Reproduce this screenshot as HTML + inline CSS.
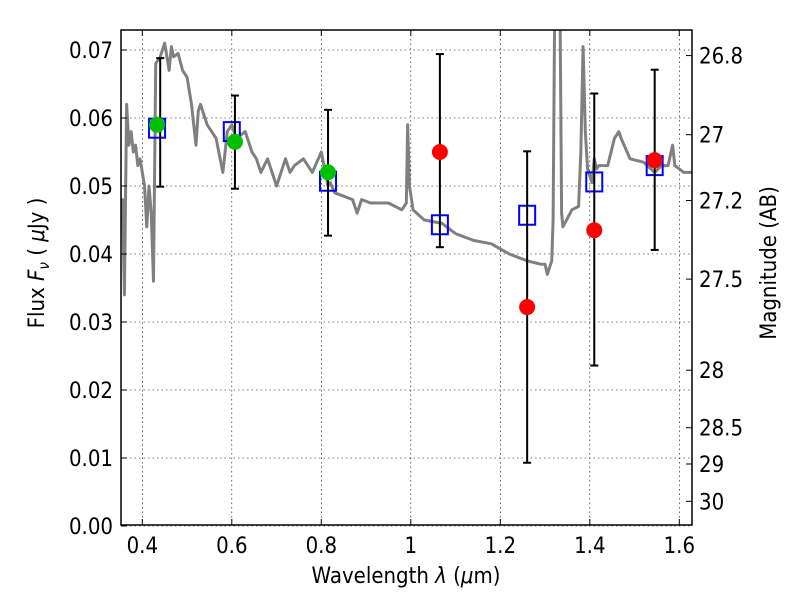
<!DOCTYPE html>
<html><head><meta charset="utf-8"><style>
body{margin:0;background:#fff}
svg text{font-family:"DejaVu Sans","Liberation Sans",sans-serif;fill:#000}
</style></head><body>
<svg id="chart" width="800" height="600" xmlns="http://www.w3.org/2000/svg">
<defs><clipPath id="clip"><rect x="121" y="30" width="571" height="495"/></clipPath></defs>
<g id="grid"></g>
<g id="spec" clip-path="url(#clip)"></g>
<g id="marks"></g>
<rect x="121" y="30" width="571" height="495" fill="none" stroke="#000" stroke-width="1.5"/>
<g id="axes"></g>
<text transform="translate(406,583) scale(0.9,1)" font-size="22" text-anchor="middle">Wavelength  <tspan font-style="italic">λ</tspan> (<tspan font-style="italic">μ</tspan>m)</text>
<text transform="translate(44,263) rotate(-90) scale(0.9,1)" font-size="22" text-anchor="middle">Flux  <tspan font-style="italic">F</tspan><tspan font-style="italic" font-size="15" dy="5">ν</tspan><tspan dy="-5">  ( </tspan><tspan font-style="italic">μ</tspan>Jy )</text>
<text transform="translate(776,263) rotate(-90) scale(0.9,1)" font-size="22" text-anchor="middle">Magnitude (AB)</text>
</svg>
<script>
const specWave=[0.352,0.356,0.36,0.365,0.37,0.375,0.38,0.385,0.39,0.395,0.4,0.405,0.41,0.415,0.42,0.425,0.43,0.44,0.45,0.46,0.465,0.47,0.48,0.49,0.5,0.51,0.52,0.525,0.53,0.545,0.555,0.565,0.58,0.59,0.6,0.61,0.62,0.63,0.645,0.655,0.665,0.68,0.69,0.7,0.72,0.73,0.74,0.76,0.78,0.8,0.815,0.82,0.83,0.85,0.87,0.88,0.89,0.91,0.95,0.98,0.99,0.993,0.997,1.005,1.03,1.07,1.1,1.14,1.18,1.22,1.26,1.29,1.3,1.305,1.315,1.318,1.322,1.333,1.337,1.34,1.36,1.375,1.38,1.385,1.39,1.395,1.405,1.41,1.415,1.42,1.44,1.455,1.465,1.47,1.49,1.52,1.545,1.56,1.575,1.585,1.59,1.61,1.627];
const specFlux=[0.045,0.048,0.034,0.062,0.056,0.058,0.055,0.056,0.053,0.054,0.052,0.05,0.044,0.05,0.046,0.036,0.068,0.069,0.071,0.067,0.0705,0.069,0.0695,0.067,0.066,0.062,0.056,0.061,0.062,0.059,0.058,0.057,0.052,0.058,0.059,0.057,0.0575,0.058,0.055,0.054,0.052,0.054,0.052,0.05,0.054,0.052,0.053,0.054,0.052,0.055,0.05,0.0505,0.049,0.0485,0.048,0.046,0.048,0.0475,0.0475,0.0465,0.0475,0.059,0.05,0.0465,0.045,0.0445,0.043,0.042,0.0415,0.040,0.039,0.0385,0.0385,0.037,0.039,0.045,0.08,0.08,0.046,0.044,0.0465,0.047,0.055,0.0705,0.058,0.0525,0.0505,0.054,0.0525,0.053,0.053,0.057,0.058,0.057,0.054,0.0535,0.052,0.053,0.053,0.056,0.053,0.052,0.052];
const sqWave=[0.433,0.6,0.815,1.065,1.26,1.41,1.545];
const sqFlux=[0.0585,0.058,0.0507,0.0443,0.0457,0.0506,0.053];
const greenWave=[0.433,0.607,0.815];
const greenFlux=[0.059,0.0565,0.052];
const redWave=[1.065,1.26,1.41,1.545];
const redFlux=[0.055,0.0322,0.0435,0.0538];
const errWave=[0.44,0.607,0.815,1.065,1.26,1.41,1.545];
const errLo=[0.0499,0.0496,0.0427,0.041,0.0093,0.0236,0.0406];
const errHi=[0.0688,0.0633,0.0612,0.0694,0.0551,0.0636,0.0671];
const xTicks=[0.4,0.6,0.8,1,1.2,1.4,1.6];
const xTickLabels=["0.4","0.6","0.8","1","1.2","1.4","1.6"];
const yTicks=[0,0.01,0.02,0.03,0.04,0.05,0.06,0.07];
const yTickLabels=["0.00","0.01","0.02","0.03","0.04","0.05","0.06","0.07"];
const magTicks=[26.8,27,27.2,27.5,28,28.5,29,30];
const magTickLabels=["26.8","27","27.2","27.5","28","28.5","29","30"];

const NS="http://www.w3.org/2000/svg";
const X=w=>142.3+(w-0.4)*447.5;
const Y=f=>526-f*6800;
function mk(tag,parent,attrs){const e=document.createElementNS(NS,tag);for(const k in attrs)e.setAttribute(k,attrs[k]);document.getElementById(parent).appendChild(e);return e;}
function txt(x,y,anchor,s){return mk('text','axes',{transform:'translate('+x+','+y+') scale(0.9,1)','font-size':22,'text-anchor':anchor});}

xTicks.forEach((t,i)=>{
  const g=mk('line','grid',{x1:X(t),x2:X(t),y1:30,y2:525,stroke:'#000','stroke-width':0.6,'stroke-dasharray':'1.5,3'});
  
  
  const tk=mk('line','axes',{x1:X(t),x2:X(t),y1:525,y2:519,stroke:'#000'});
  
  
  const tk2=mk('line','axes',{x1:X(t),x2:X(t),y1:30,y2:36,stroke:'#000'});
  
  
  const l=txt(X(t),553,'middle');
  l.textContent=xTickLabels[i];
  
  
});
yTicks.forEach((t,i)=>{
  const g=mk('line','grid',{x1:121,x2:692,y1:Y(t),y2:Y(t),stroke:'#000','stroke-width':0.6,'stroke-dasharray':'1.5,3'});
  
  
  const tk=mk('line','axes',{x1:121,x2:127,y1:Y(t),y2:Y(t),stroke:'#000'});
  
  
  const l=txt(113,Y(t)+8,'end');
  l.textContent=yTickLabels[i];
  
  
});
magTicks.forEach((m,i)=>{
  const y=Y(Math.pow(10,(23.9-m)/2.5));
  const tk=mk('line','axes',{x1:686,x2:692,y1:y,y2:y,stroke:'#000'});
  
  
  const l=txt(699,y+8,'start');
  l.textContent=magTickLabels[i];
  
  
});
const p=mk('polyline','spec',{points:specWave.map((w,i)=>X(w)+','+Y(specFlux[i])).join(' '),fill:'none',stroke:'#808080','stroke-width':3,'stroke-linejoin':'round'});


sqWave.forEach((w,i)=>{
  const r=mk('rect','marks',{x:X(w)-8,y:Y(sqFlux[i])-9.5,width:16,height:19,fill:'none',stroke:'#0000ff','stroke-width':2});
  
  
});
errWave.forEach((w,i)=>{
  const x=X(w);
  const l=mk('line','marks',{x1:x,x2:x,y1:Y(errLo[i]),y2:Y(errHi[i]),stroke:'#000','stroke-width':2});
  
  
  [errLo[i],errHi[i]].forEach(v=>{
    const c=mk('line','marks',{x1:x-4,x2:x+4,y1:Y(v),y2:Y(v),stroke:'#000','stroke-width':2});
    
    
  });
});
greenWave.forEach((w,i)=>{
  const c=mk('circle','marks',{cx:X(w),cy:Y(greenFlux[i]),r:8,fill:'#00c000'});
  
  
});
redWave.forEach((w,i)=>{
  const c=mk('circle','marks',{cx:X(w),cy:Y(redFlux[i]),r:8,fill:'#ff0000'});
  
  
});
</script>
</body></html>
